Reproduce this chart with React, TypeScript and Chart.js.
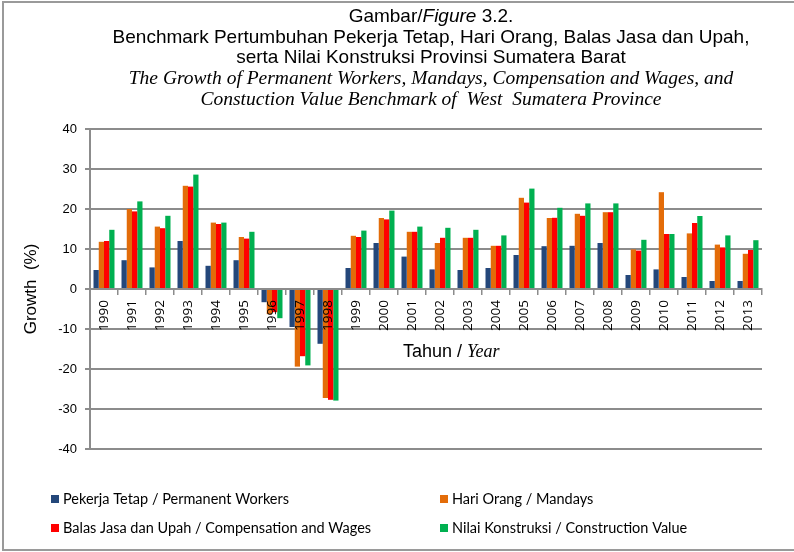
import React, { useEffect, useRef } from "react";
import { Chart, registerables } from "chart.js";

Chart.register(...registerables);

const categories = [
  "1990", "1991", "1992", "1993", "1994", "1995", "1996", "1997", "1998", "1999", "2000", "2001",
  "2002", "2003", "2004", "2005", "2006", "2007", "2008", "2009", "2010", "2011", "2012", "2013",
];
const permanentWorkers = [4.75, 7.2, 5.4, 12.0, 5.8, 7.2, -3.3, -9.5, -13.7, 5.25, 11.5, 8.1, 4.9, 4.75, 5.25, 8.5, 10.7, 10.8, 11.5, 3.5, 4.9, 3.0, 2.0, 2.0];
const mandays = [11.8, 20.0, 15.6, 25.8, 16.6, 13.0, -6.3, -19.4, -27.25, 13.3, 17.75, 14.3, 11.5, 12.8, 10.8, 22.8, 17.75, 18.8, 19.2, 9.9, 24.2, 13.9, 11.1, 8.8];
const compensation = [12.0, 19.4, 15.2, 25.6, 16.25, 12.6, -5.8, -16.8, -27.7, 13.0, 17.4, 14.3, 12.8, 12.8, 10.8, 21.6, 17.8, 18.3, 19.2, 9.6, 13.75, 16.5, 10.4, 9.75];
const construction = [14.8, 21.9, 18.3, 28.6, 16.6, 14.3, -7.3, -19.1, -27.9, 14.6, 19.6, 15.6, 15.3, 14.8, 13.4, 25.1, 20.3, 21.4, 21.4, 12.3, 13.75, 18.25, 13.4, 12.2];
const seriesLabels = [
  "Pekerja Tetap / Permanent Workers",
  "Hari Orang / Mandays",
  "Balas Jasa dan Upah / Compensation and Wages",
  "Nilai Konstruksi / Construction Value",
];
const seriesColors = ["#24477A", "#E36C09", "#FF0000", "#00B050"];
const yMin = -40;
const yMax = 40;
const yStep = 10;

const GRID = "#8c8c8c";
const SANS = "'Liberation Sans', Arial, sans-serif";
const SERIF = "'Liberation Serif', 'Times New Roman', serif";
const LEGEND_FONT = "Lato, 'Open Sans', sans-serif";

type Seg = { t: string; f: string };

function drawSegs(ctx: CanvasRenderingContext2D, segs: Seg[], cx: number, y: number, align: "center" | "left") {
  let total = 0;
  for (const s of segs) {
    ctx.font = s.f;
    total += ctx.measureText(s.t).width;
  }
  let x = align === "center" ? cx - total / 2 : cx;
  ctx.textAlign = "left";
  ctx.textBaseline = "middle";
  for (const s of segs) {
    ctx.font = s.f;
    ctx.fillText(s.t, x, y);
    x += ctx.measureText(s.t).width;
  }
}

const decorPlugin = {
  id: "decor",
  afterDraw(chart: any) {
    const ctx: CanvasRenderingContext2D = chart.ctx;
    ctx.save();
    ctx.fillStyle = "#000";
    const n = `19px ${SANS}`;
    const it = `italic 19px ${SANS}`;
    const sit = `italic 19.5px ${SERIF}`;
    const cx = 431;
    drawSegs(ctx, [{ t: "Gambar/", f: n }, { t: "Figure", f: it }, { t: " 3.2.", f: n }], cx, 17, "center");
    drawSegs(ctx, [{ t: "Benchmark Pertumbuhan Pekerja Tetap, Hari Orang, Balas Jasa dan Upah,", f: n }], cx, 38, "center");
    drawSegs(ctx, [{ t: "serta Nilai Konstruksi Provinsi Sumatera Barat", f: n }], cx, 58, "center");
    drawSegs(ctx, [{ t: "The Growth of Permanent Workers, Mandays, Compensation and Wages, and", f: sit }], cx, 79, "center");
    drawSegs(ctx, [{ t: "Constuction Value Benchmark of  West  Sumatera Province", f: sit }], cx, 100, "center");

    // y axis title
    ctx.save();
    ctx.translate(31, 289);
    ctx.rotate(-Math.PI / 2);
    ctx.font = `17px ${SANS}`;
    ctx.textAlign = "center";
    ctx.textBaseline = "middle";
    ctx.fillText("Growth  (%)", 0, 0);
    ctx.restore();

    // x axis title
    drawSegs(ctx, [{ t: "Tahun / ", f: `18px ${SANS}` }, { t: "Year", f: `italic 18px ${SERIF}` }], 403, 352, "left");

    // legend
    const legendPos = [
      [51, 499],
      [440, 499],
      [51, 528],
      [440, 528],
    ];
    chart.data.datasets.forEach((ds: any, i: number) => {
      const [lx, ly] = legendPos[i];
      ctx.fillStyle = ds.backgroundColor;
      ctx.fillRect(lx, ly - 4, 8, 8);
      ctx.fillStyle = "#000";
      ctx.font = `14.5px ${LEGEND_FONT}`;
      ctx.textAlign = "left";
      ctx.textBaseline = "middle";
      ctx.fillText(ds.label, lx + 12, ly);
    });

    // frame
    ctx.strokeStyle = "#9a9a9a";
    ctx.lineWidth = 2;
    ctx.strokeRect(3, 2, 820, 548);
    ctx.restore();
  },
};

export default function App() {
  const ref = useRef<HTMLCanvasElement | null>(null);
  useEffect(() => {
    if (!ref.current) return;
    const datasets = [permanentWorkers, mandays, compensation, construction].map((d, i) => ({
      label: seriesLabels[i],
      data: d,
      backgroundColor: seriesColors[i],
      borderWidth: 0,
      barPercentage: 1.0,
      categoryPercentage: 0.75,
    }));
    const chart = new Chart(ref.current, {
      type: "bar",
      data: { labels: categories, datasets },
      options: {
        responsive: false,
        animation: false,
        layout: { padding: { left: 0, top: 129, right: 32, bottom: 103 } },
        plugins: {
          legend: { display: false },
          tooltip: { enabled: false },
          title: { display: false },
        },
        scales: {
          x: {
            position: { y: 0 } as any,
            grid: {
              display: true,
              drawOnChartArea: false,
              drawTicks: true,
              tickLength: 5,
              color: GRID,
              lineWidth: 1.5,
              offset: true,
              z: 1,
            },
            border: { display: true, color: GRID, width: 2, z: 1 },
            ticks: {
              z: 1,
              autoSkip: false,
              maxRotation: 90,
              minRotation: 90,
              padding: 6,
              color: "#000",
              font: { family: "'Open Sans', sans-serif", size: 13.5 },
            },
          },
          y: {
            min: yMin,
            max: yMax,
            afterFit: (scale: any) => {
              scale.width = 90;
            },
            grid: {
              color: GRID,
              lineWidth: 2,
              drawTicks: true,
              tickLength: 5,
            },
            border: { display: true, color: GRID, width: 2 },
            ticks: {
              stepSize: yStep,
              padding: 8,
              color: "#000",
              font: { family: SANS, size: 13 },
            },
          },
        },
      },
      plugins: [decorPlugin],
    });
    return () => chart.destroy();
  }, []);
  return (
    <div style={{ position: "fixed", left: 0, top: 0, width: 794, height: 552, background: "#fff" }}>
      <canvas ref={ref} width={794} height={552} style={{ display: "block" }} />
    </div>
  );
}
